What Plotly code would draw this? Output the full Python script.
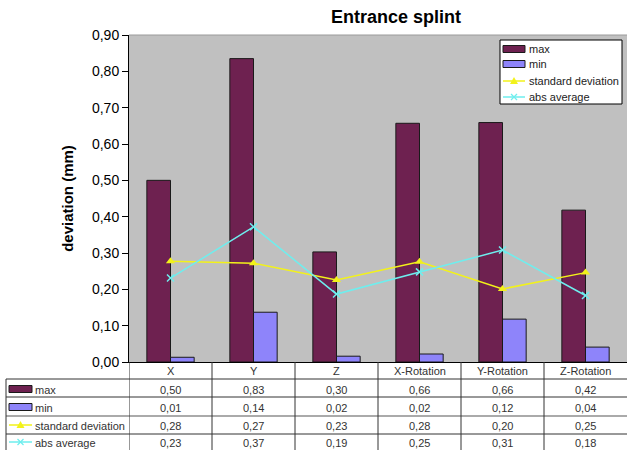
import plotly.graph_objects as go

# ---------------- data ----------------
categories = ["X", "Y", "Z", "X-Rotation", "Y-Rotation", "Z-Rotation"]
max_vals = [0.500, 0.835, 0.303, 0.657, 0.659, 0.418]
min_vals = [0.013, 0.137, 0.016, 0.022, 0.118, 0.041]
std_vals = [0.277, 0.272, 0.226, 0.276, 0.201, 0.246]
abs_vals = [0.231, 0.372, 0.187, 0.248, 0.308, 0.183]
series_names = ["max", "min", "standard deviation", "abs average"]
y_ticks = [0.0, 0.1, 0.2, 0.3, 0.4, 0.5, 0.6, 0.7, 0.8, 0.9]

# ---------------- styles ----------------
W, H = 627, 450
ML, MR, MT, MB = 129, 0, 35, 88
PLOT_H = H - MT - MB
PLOT_W = W - ML - MR
FONT = "Liberation Sans, Arial, sans-serif"
C_MAX = "#6E2150"
C_MIN = "#8E84FA"
C_STD = "#F2F21A"
C_ABS = "#6EEEEE"
TXT = "#333333"


def py(pix):
    """pixel row -> paper y"""
    return (H - MB - pix) / PLOT_H


def px(pix):
    """pixel column -> paper x"""
    return (pix - ML) / PLOT_W


fig = go.Figure()
fig.add_trace(go.Bar(x=categories, y=max_vals, name=series_names[0],
                     marker=dict(color=C_MAX, line=dict(color="#1a1a1a", width=1))))
fig.add_trace(go.Bar(x=categories, y=min_vals, name=series_names[1],
                     marker=dict(color=C_MIN, line=dict(color="#1a1a1a", width=1))))
fig.add_trace(go.Scatter(x=categories, y=std_vals, name=series_names[2], mode="lines+markers",
                         line=dict(color=C_STD, width=1.5),
                         marker=dict(symbol="triangle-up", size=8, color=C_STD)))
fig.add_trace(go.Scatter(x=categories, y=abs_vals, name=series_names[3], mode="lines+markers",
                         line=dict(color=C_ABS, width=1.5),
                         marker=dict(symbol="x-thin", size=7, color=C_ABS,
                                     line=dict(color=C_ABS, width=1.5))))

shapes = []
annotations = []


def add_key(kind, x0, x1, yc, color):
    """legend key drawn in pixel coordinates"""
    if kind == "bar":
        shapes.append(dict(type="rect", xref="paper", yref="paper", x0=px(x0), x1=px(x1),
                           y0=py(yc - 3.5), y1=py(yc + 3.5), fillcolor=color,
                           line=dict(color="#1a1a1a", width=1)))
    else:
        shapes.append(dict(type="line", xref="paper", yref="paper", x0=px(x0), x1=px(x1),
                           y0=py(yc), y1=py(yc), line=dict(color=color, width=1.5)))
        xm = (x0 + x1) / 2
        if kind == "tri":
            shapes.append(dict(type="path", xref="paper", yref="paper",
                               path=f"M {px(xm-4)} {py(yc+3)} L {px(xm+4)} {py(yc+3)} L {px(xm)} {py(yc-4)} Z",
                               fillcolor=color, line=dict(color=color, width=0)))
        else:
            shapes.append(dict(type="line", xref="paper", yref="paper", x0=px(xm - 3), x1=px(xm + 3),
                               y0=py(yc - 3), y1=py(yc + 3), line=dict(color=color, width=1.2)))
            shapes.append(dict(type="line", xref="paper", yref="paper", x0=px(xm - 3), x1=px(xm + 3),
                               y0=py(yc + 3), y1=py(yc - 3), line=dict(color=color, width=1.2)))


key_kinds = ["bar", "bar", "tri", "x"]
key_colors = [C_MAX, C_MIN, C_STD, C_ABS]

# ---------- legend box inside plot ----------
shapes.append(dict(type="rect", xref="paper", yref="paper", x0=px(500), x1=px(622),
                   y0=py(40), y1=py(104), fillcolor="white", line=dict(color="black", width=1)))
leg_rows = [49, 64, 81, 97]
for yc, kind, col, name in zip(leg_rows, key_kinds, key_colors, series_names):
    add_key(kind, 503, 525, yc, col)
    annotations.append(dict(x=px(527), xref="paper", y=py(yc), yref="paper", text=name,
                            showarrow=False, font=dict(family=FONT, size=11, color="#222"),
                            xanchor="left", yanchor="middle"))

# ---------- data table under the plot ----------
row_lines = [379, 397, 416, 434]
for yl in row_lines:
    grey = (yl == 416)
    shapes.append(dict(type="line", xref="paper", yref="paper",
                       x0=px(6), x1=1, y0=py(yl), y1=py(yl),
                       line=dict(color="#aaaaaa" if grey else "#333333", width=2 if grey else 1)))
for k in range(len(categories)):
    shapes.append(dict(type="line", xref="x", yref="paper",
                       x0=k - 0.5, x1=k - 0.5, y0=0, y1=py(450),
                       line=dict(color="#333333", width=1)))
shapes.append(dict(type="line", xref="paper", yref="paper",
                   x0=px(6), x1=px(6), y0=py(379), y1=py(450),
                   line=dict(color="#333333", width=1)))

for c in categories:
    annotations.append(dict(x=c, xref="x", y=py(371), yref="paper", text=c,
                            showarrow=False, font=dict(family=FONT, size=11, color=TXT),
                            xanchor="center", yanchor="middle"))

row_centers = [390, 408, 426, 443]
row_values = [max_vals, min_vals, std_vals, abs_vals]
for rc, vals, name, kind, col in zip(row_centers, row_values, series_names, key_kinds, key_colors):
    add_key(kind, 9, 32, rc - 1, col)
    annotations.append(dict(x=px(33), xref="paper", y=py(rc), yref="paper", text=name,
                            showarrow=False, font=dict(family=FONT, size=11, color=TXT),
                            xanchor="left", yanchor="middle"))
    for c, v in zip(categories, vals):
        annotations.append(dict(x=c, xref="x", y=py(rc), yref="paper",
                                text=f"{v:.2f}".replace(".", ","),
                                showarrow=False, font=dict(family=FONT, size=11, color=TXT),
                                xanchor="center", yanchor="middle"))

# thin grey border at top of plot area
shapes.append(dict(type="line", xref="paper", yref="paper", x0=0, x1=1, y0=1, y1=1,
                   line=dict(color="#9a9a9a", width=1)))

fig.update_layout(
    width=W, height=H, autosize=False,
    margin=dict(l=ML, r=MR, t=MT, b=MB, pad=0),
    paper_bgcolor="white", plot_bgcolor="#C0C0C0",
    separators=",.",
    showlegend=False,
    barmode="group", bargap=0.43, bargroupgap=0,
    font=dict(family=FONT, size=11, color="black"),
    title=dict(text="<b>Entrance splint</b>", x=px(396), xref="paper", xanchor="center",
               y=1 - 17 / H, yref="container", yanchor="middle",
               font=dict(family=FONT, size=18, color="black")),
    xaxis=dict(showticklabels=False, ticks="", showgrid=False, showline=True,
               linecolor="black", linewidth=1, zeroline=False, range=[-0.5, 5.5]),
    yaxis=dict(range=[0, 0.9], tickvals=y_ticks, tickformat=".2f", ticks="outside",
               ticklen=6, tickcolor="black", showgrid=False, zeroline=False,
               showline=True, linecolor="black", linewidth=1,
               tickfont=dict(family=FONT, size=14, color="black"),
               title=dict(text="<b>deviation (mm)</b>", standoff=14,
                          font=dict(family=FONT, size=15, color="black"))),
    shapes=shapes, annotations=annotations,
)

fig.write_html("out.html", config={"displayModeBar": False},
               post_script="document.body.style.margin='0';")
